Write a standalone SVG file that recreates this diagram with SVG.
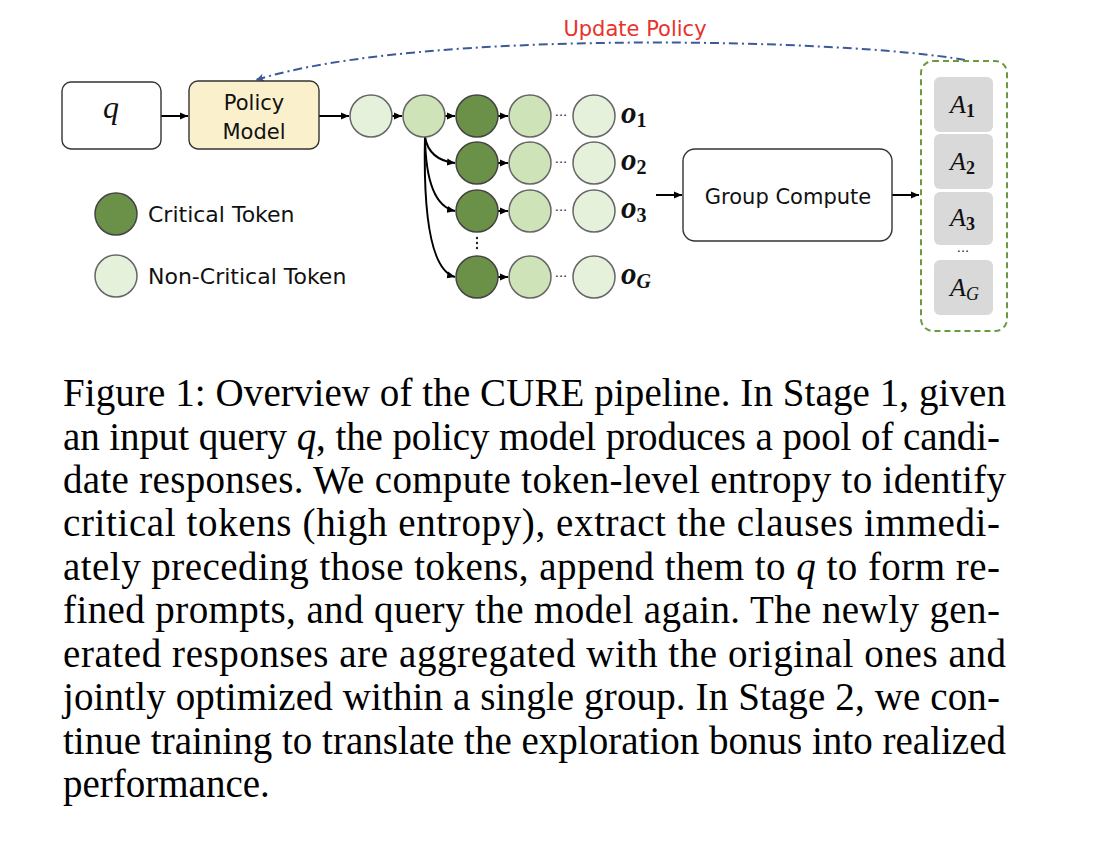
<svg xmlns="http://www.w3.org/2000/svg" width="1100" height="842" viewBox="0 0 1100 842">
<defs>
<marker id="ah" markerUnits="userSpaceOnUse" markerWidth="9" markerHeight="8" refX="8" refY="4" orient="auto">
<path d="M0,0.5 L8,4 L0,7.5 z" fill="#000"/>
</marker>
<marker id="ahb" markerUnits="userSpaceOnUse" markerWidth="10" markerHeight="10" refX="8" refY="5" orient="auto">
<path d="M0,1 L8,5 L0,9 L2,5 z" fill="#3d5a98"/>
</marker>
<style>
.lbl{font-family:"DejaVu Sans","Noto Sans",sans-serif;fill:#111}
.box{fill:#fff;stroke:#333;stroke-width:1.4}
.c0{fill:#e6f1dc;stroke:#666;stroke-width:1.5}
.c1{fill:#cfe3b9;stroke:#666;stroke-width:1.5}
.c2{fill:#6a9147;stroke:#444;stroke-width:1.5}
.ar{stroke:#000;stroke-width:2;fill:none;marker-end:url(#ah)}
.abox{fill:#d9d9d9;stroke:none}
.math{font-family:"Liberation Serif","DejaVu Serif",serif;fill:#111}
.cap{font-family:"Liberation Serif","Times New Roman",serif;font-size:39px;fill:#000}
.dots{font-family:"DejaVu Sans",sans-serif;font-size:13px;fill:#222}
</style>
</defs>

<g id="connectors">
<line class="ar" x1="161" y1="116" x2="188" y2="116"/>
<line class="ar" x1="319" y1="116" x2="349" y2="116"/>
<line class="ar" x1="392" y1="116" x2="402" y2="116"/>
<line class="ar" x1="445" y1="116" x2="455" y2="116"/>
<line class="ar" x1="498" y1="116" x2="508" y2="116"/>
<line class="ar" x1="498" y1="163" x2="508" y2="163"/>
<line class="ar" x1="498" y1="211" x2="508" y2="211"/>
<line class="ar" x1="498" y1="277" x2="508" y2="277"/>
<path class="ar" d="M425,137 Q429,160 455,163"/>
<path class="ar" d="M425,137 Q426,205 455,211"/>
<path class="ar" d="M425,137 Q422,268 455,277"/>
<line class="ar" x1="656" y1="195" x2="682" y2="195"/>
<line class="ar" x1="892" y1="195" x2="919" y2="195"/>
<path d="M965,60 C850,39 420,28 256,80" fill="none" stroke="#3d5a98" stroke-width="2" stroke-dasharray="9 4 2 4" marker-end="url(#ahb)"/>
</g>

<g id="update-label">
<text class="lbl" x="635" y="36" text-anchor="middle" font-size="21" style="fill:#e8322b">Update Policy</text>
</g>

<g id="node-q">
<rect class="box" x="62" y="82" width="99" height="67" rx="9"/>
<text class="math" x="111" y="118" text-anchor="middle" font-size="32" font-style="italic">q</text>
</g>

<g id="node-policy">
<rect x="189" y="81" width="130" height="68" rx="9" fill="#fbf0cc" stroke="#333" stroke-width="1.4"/>
<text class="lbl" x="254" y="110" text-anchor="middle" font-size="21">Policy</text>
<text class="lbl" x="254" y="139" text-anchor="middle" font-size="21">Model</text>
</g>

<g id="tokens-shared">
<circle class="c0" cx="371" cy="116" r="21"/>
<circle class="c1" cx="424" cy="116" r="21"/>
</g>

<g id="row-1">
<circle class="c2" cx="477" cy="116" r="21"/>
<circle class="c1" cx="530" cy="116" r="21"/>
<text class="dots" x="561" y="120" text-anchor="middle">···</text>
<circle class="c0" cx="594" cy="116" r="21"/>
<text class="math" x="621" y="123" font-size="31" font-weight="bold" font-style="italic">o<tspan font-style="normal" font-size="20" dy="4">1</tspan></text>
</g>
<g id="row-2">
<circle class="c2" cx="477" cy="163" r="21"/>
<circle class="c1" cx="530" cy="163" r="21"/>
<text class="dots" x="561" y="167" text-anchor="middle">···</text>
<circle class="c0" cx="594" cy="163" r="21"/>
<text class="math" x="621" y="170" font-size="31" font-weight="bold" font-style="italic">o<tspan font-style="normal" font-size="20" dy="4">2</tspan></text>
</g>
<g id="row-3">
<circle class="c2" cx="477" cy="211" r="21"/>
<circle class="c1" cx="530" cy="211" r="21"/>
<text class="dots" x="561" y="215" text-anchor="middle">···</text>
<circle class="c0" cx="594" cy="211" r="21"/>
<text class="math" x="621" y="218" font-size="31" font-weight="bold" font-style="italic">o<tspan font-style="normal" font-size="20" dy="4">3</tspan></text>
</g>
<g id="vdots">
<circle cx="477" cy="238" r="1.2" fill="#222"/>
<circle cx="477" cy="243" r="1.2" fill="#222"/>
<circle cx="477" cy="248" r="1.2" fill="#222"/>
</g>
<g id="row-G">
<circle class="c2" cx="477" cy="277" r="21"/>
<circle class="c1" cx="530" cy="277" r="21"/>
<text class="dots" x="561" y="281" text-anchor="middle">···</text>
<circle class="c0" cx="594" cy="277" r="21"/>
<text class="math" x="621" y="284" font-size="31" font-weight="bold" font-style="italic">o<tspan font-size="20" dy="4">G</tspan></text>
</g>

<g id="legend">
<circle class="c2" cx="116" cy="214" r="21"/>
<text class="lbl" x="148" y="222" font-size="22">Critical Token</text>
<circle class="c0" cx="116" cy="276" r="21"/>
<text class="lbl" x="148" y="284" font-size="22">Non-Critical Token</text>
</g>

<g id="node-group-compute">
<rect class="box" x="683" y="149" width="209" height="92" rx="12"/>
<text class="lbl" x="788" y="204" text-anchor="middle" font-size="21">Group Compute</text>
</g>

<g id="node-advantages">
<rect x="921" y="61" width="86" height="270" rx="12" fill="none" stroke="#6a9a3f" stroke-width="2" stroke-dasharray="6 4"/>
<rect class="abox" x="934" y="77" width="59" height="55" rx="6"/>
<rect class="abox" x="934" y="134" width="59" height="55" rx="6"/>
<rect class="abox" x="934" y="192" width="59" height="53" rx="6"/>
<rect class="abox" x="934" y="260" width="59" height="55" rx="6"/>
<text class="math" x="950" y="113" font-size="26" font-style="italic">A<tspan font-style="normal" font-weight="bold" font-size="18" dy="4">1</tspan></text>
<text class="math" x="950" y="170" font-size="26" font-style="italic">A<tspan font-style="normal" font-weight="bold" font-size="18" dy="4">2</tspan></text>
<text class="math" x="950" y="226" font-size="26" font-style="italic">A<tspan font-style="normal" font-weight="bold" font-size="18" dy="4">3</tspan></text>
<text class="dots" x="963" y="256" text-anchor="middle">···</text>
<text class="math" x="950" y="296" font-size="26" font-style="italic">A<tspan font-size="18" dy="4">G</tspan></text>
</g>

<g id="caption">
<text class="cap" x="63" y="406" textLength="943" lengthAdjust="spacing">Figure 1: Overview of the CURE pipeline. In Stage 1, given</text>
<text class="cap" x="63" y="449.5" textLength="937" lengthAdjust="spacing">an input query <tspan font-style="italic">q</tspan>, the policy model produces a pool of candi-</text>
<text class="cap" x="63" y="493" textLength="943" lengthAdjust="spacing">date responses. We compute token-level entropy to identify</text>
<text class="cap" x="63" y="536.4" textLength="937" lengthAdjust="spacing">critical tokens (high entropy), extract the clauses immedi-</text>
<text class="cap" x="63" y="579.8" textLength="937" lengthAdjust="spacing">ately preceding those tokens, append them to <tspan font-style="italic">q</tspan> to form re-</text>
<text class="cap" x="63" y="623.3" textLength="937" lengthAdjust="spacing">fined prompts, and query the model again. The newly gen-</text>
<text class="cap" x="63" y="666.7" textLength="943" lengthAdjust="spacing">erated responses are aggregated with the original ones and</text>
<text class="cap" x="63" y="710.2" textLength="937" lengthAdjust="spacing">jointly optimized within a single group. In Stage 2, we con-</text>
<text class="cap" x="63" y="753.6" textLength="943" lengthAdjust="spacing">tinue training to translate the exploration bonus into realized</text>
<text class="cap" x="63" y="797">performance.</text>
</g>
</svg>
